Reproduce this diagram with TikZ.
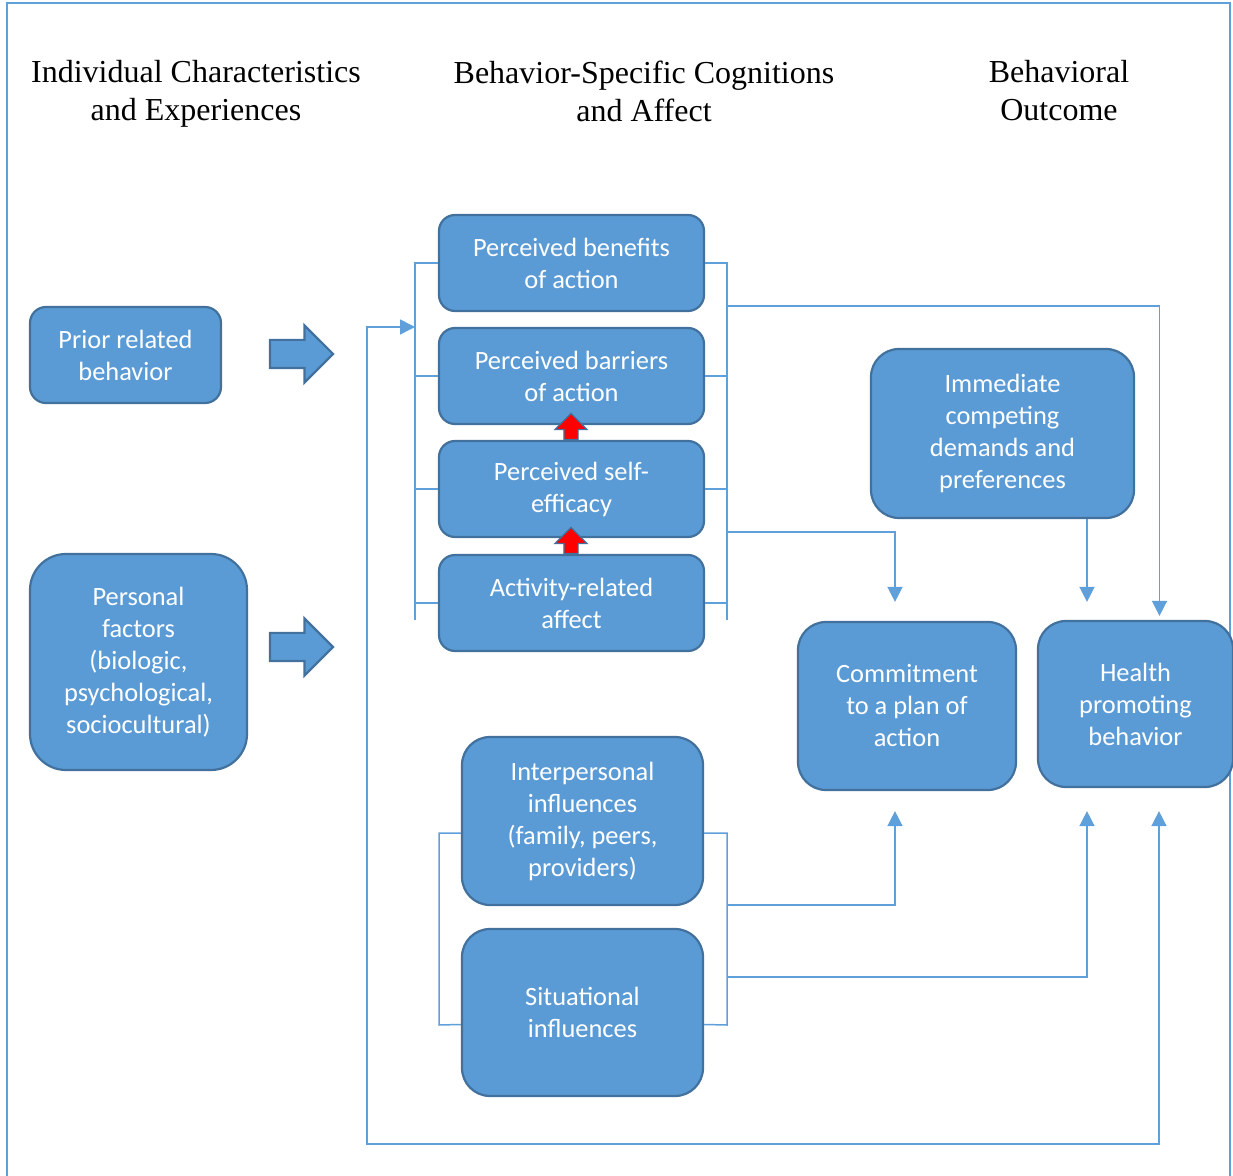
\documentclass[tikz,border=0pt]{standalone}
\usepackage{fontspec}
\usetikzlibrary{arrows.meta,shapes.arrows}
\setmainfont{Liberation Serif}
\newfontfamily\boxfont{Carlito}
\definecolor{officeBlue}{RGB}{91,155,213}
\definecolor{officeEdge}{RGB}{65,113,156}
\definecolor{linkBlue}{RGB}{96,160,218}
\tikzset{
  box/.style={rounded corners=8pt,draw=officeEdge,fill=officeBlue,line width=1.1pt,text=white,align=center,inner sep=0pt,font=\boxfont\fontsize{13.2}{16}\selectfont},
  head/.style={align=center,font=\fontsize{16}{19}\selectfont},
  link/.style={draw=linkBlue,line width=0.75pt},
  bigarrow/.style={single arrow,draw=officeEdge,fill=officeBlue,line width=1.1pt,minimum height=31.5pt,single arrow head extend=7.25pt,inner xsep=0pt,inner ysep=6.5pt},
  redarrow/.style={single arrow,rotate=90,draw=officeEdge,fill=red,line width=0.6pt,minimum height=13pt,single arrow head extend=4.5pt,inner xsep=0pt,inner ysep=3.25pt}
}

\begin{document}
\begin{tikzpicture}[x=0.5pt,y=-0.5pt,>={Triangle[length=7.5pt,width=7.5pt]}]
\useasboundingbox (0,0) rectangle (1233,1176);
\draw[linkBlue,line width=0.6pt] (7,3) rectangle (1230,1190);

\node[head] (hIndiv) at (196,94) {Individual Characteristics\\and Experiences};
\node[head] (hCog) at (644,91) {Behavior-Specific Cognitions\\and Affect};
\node[head] (hOut) at (1059,91) {Behavioral\\Outcome};

\node[box,minimum width=95.5pt,minimum height=48pt] (prior) at (125.5,355) {Prior related\\behavior};
\node[box,minimum width=108.5pt,minimum height=108pt,rounded corners=18pt] (pers) at (138.5,662) {Personal\\factors\\(biologic,\\psychological,\\sociocultural)};
\node[bigarrow] (arrPrior) at (294.5,354) {};
\node[bigarrow] (arrPers) at (294.5,647) {};

\node[box,minimum width=132.5pt,minimum height=48pt] (ben) at (571.5,263) {Perceived benefits\\of action};
\node[box,minimum width=132.5pt,minimum height=48pt] (bar) at (571.5,376) {Perceived barriers\\of action};
\node[box,minimum width=132.5pt,minimum height=48pt] (eff) at (571.5,489) {Perceived self-\\efficacy};
\node[box,minimum width=132.5pt,minimum height=48pt] (aff) at (571.5,603) {Activity-related\\affect};
\node[redarrow] (upEff) at (571,430) {};
\node[redarrow] (upAff) at (571,544) {};

\node[box,minimum width=120.5pt,minimum height=84pt,rounded corners=14pt] (ipi) at (582.5,821) {Interpersonal\\influences\\(family, peers,\\providers)};
\node[box,minimum width=120.5pt,minimum height=83.5pt,rounded corners=14pt] (sit) at (582.5,1012.5) {Situational\\influences};

\node[box,minimum width=131.5pt,minimum height=84.5pt,rounded corners=14pt] (imm) at (1002.5,433.5) {Immediate\\competing\\demands and\\preferences};
\node[box,minimum width=109pt,minimum height=84pt,rounded corners=14pt] (cmt) at (907,706) {Commitment\\to a plan of\\action};
\node[box,minimum width=97.5pt,minimum height=83pt,rounded corners=14pt] (hpb) at (1135.5,704) {Health\\promoting\\behavior};

\coordinate (cogL) at (415,620);
\coordinate (cogR) at (727,620);
\coordinate (infL) at (439,1025);
\coordinate (infR) at (727,1025);
\coordinate (cogOutA) at (727,306);
\coordinate (cogOutB) at (727,532);
\coordinate (infOutA) at (727,905);
\coordinate (infOutB) at (727,977);
\coordinate (fbIn) at (415,327);
\coordinate (fbCorner) at (367,1144);

\draw[link] (ben.west) -| (cogL);
\draw[link] (ben.east) -| (cogR);
\foreach \b in {bar,eff,aff}{
  \draw[link] (\b.west) -- (\b.west -| cogL);
  \draw[link] (\b.east) -- (\b.east -| cogR);
}
\draw[link] ([yshift=-6pt]ipi.west) -| (infL) -- ([yshift=-6pt]sit.west);
\draw[link] ([yshift=-6pt]ipi.east) -| (infR) -- ([yshift=-6pt]sit.east);

\draw[link,->] (cogOutA) -| ([xshift=12pt,yshift=2pt]hpb.north);
\draw[link,->] (cogOutB) -| ([xshift=-6pt,yshift=9.5pt]cmt.north);
\draw[link,->] ([xshift=42.25pt]imm.south) -- ([xshift=-24.25pt,yshift=9pt]hpb.north);
\draw[link,->] (infOutA) -| ([xshift=-6pt,yshift=-10pt]cmt.south);
\draw[link,->] (infOutB) -| ([xshift=-24.25pt,yshift=-11.5pt]hpb.south);
\draw[link,<->] (fbIn) -| (fbCorner) -| ([xshift=11.75pt,yshift=-11.5pt]hpb.south);
\end{tikzpicture}
\end{document}
